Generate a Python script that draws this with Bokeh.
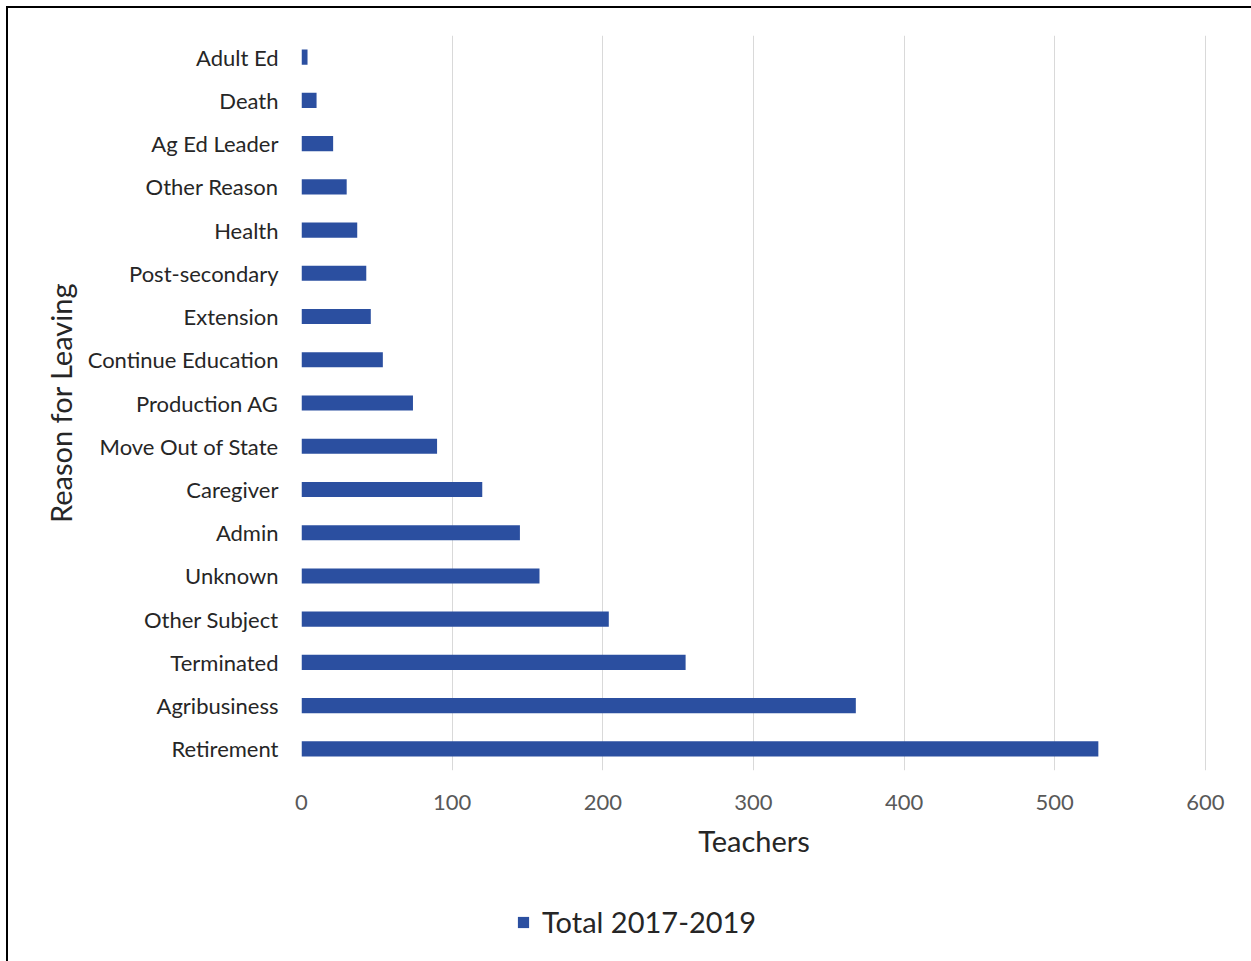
from bokeh.plotting import figure
from bokeh.layouts import column
from bokeh.models import ColumnDataSource, Legend, LegendItem, FixedTicker, Range1d, FactorRange
from bokeh.embed import file_html
from bokeh.resources import INLINE

reasons = ["Adult Ed", "Death", "Ag Ed Leader", "Other Reason", "Health", "Post-secondary",
           "Extension", "Continue Education", "Production AG", "Move Out of State", "Caregiver",
           "Admin", "Unknown", "Other Subject", "Terminated", "Agribusiness", "Retirement"]
teachers = [4, 10, 21, 30, 37, 43, 46, 54, 74, 90, 120, 145, 158, 204, 255, 368, 529]
x_ticks = [0, 100, 200, 300, 400, 500, 600]
series_name = "Total 2017-2019"

FONT = "Lato"
BAR = "#2B4FA0"
W = 1243
H1 = 857
H2 = 96

src = ColumnDataSource(dict(reason=reasons, teachers=teachers))

p = figure(width=W, height=H1, output_backend="svg", toolbar_location=None,
           y_range=FactorRange(*reversed(reasons), range_padding=0),
           x_range=Range1d(0, 600.8))
p.min_border_left = 293
p.min_border_right = 45
p.min_border_top = 27
p.min_border_bottom = H1 - 27 - 735
p.outline_line_color = None
p.background_fill_color = "white"
p.border_fill_color = "white"

r = p.hbar(y="reason", right="teachers", left=0, height=0.35, source=src,
           fill_color=BAR, line_color=None)

p.xaxis.ticker = FixedTicker(ticks=x_ticks)
p.xgrid.ticker = FixedTicker(ticks=x_ticks[1:])
p.xgrid.grid_line_color = "#D9D9D9"
p.ygrid.grid_line_color = None

for ax in (p.xaxis[0], p.yaxis[0]):
    ax.axis_line_color = None
    ax.major_tick_line_color = None
    ax.minor_tick_line_color = None
    ax.major_label_text_font = FONT
    ax.major_label_text_font_size = "22px"
    ax.axis_label_text_font = FONT
    ax.axis_label_text_font_size = "29px"
    ax.axis_label_text_font_style = "normal"
    ax.axis_label_text_color = "#262626"

p.xaxis.major_label_text_color = "#595959"
p.yaxis.major_label_text_color = "#262626"
p.xaxis.major_label_standoff = 18
p.yaxis.major_label_standoff = 17
p.xaxis.axis_label = "Teachers"
p.xaxis.axis_label_standoff = 10
p.yaxis.axis_label = "Reason for Leaving"
p.yaxis.axis_label_standoff = 7

# legend strip below the chart (its renderer draws nothing inside the strip)
p2 = figure(width=W, height=H2, output_backend="svg", toolbar_location=None,
            x_range=Range1d(-2000, -1000), y_range=FactorRange(*reversed(reasons)),
            x_axis_type=None, y_axis_type=None)
p2.min_border_left = p2.min_border_right = p2.min_border_top = p2.min_border_bottom = 0
p2.outline_line_color = None
p2.background_fill_color = "white"
p2.border_fill_color = "white"
r2 = p2.hbar(y="reason", right="teachers", left=0, height=0, source=src,
             fill_color=BAR, line_color=None)

legend = Legend(items=[LegendItem(label=series_name, renderers=[r2])],
                location=(215, 22), orientation="horizontal",
                label_text_font=FONT, label_text_font_size="29px",
                label_text_color="#262626", glyph_width=14, glyph_height=14,
                label_standoff=12, border_line_color=None,
                background_fill_alpha=0, margin=0, padding=0)
p2.add_layout(legend, "center")

layout = column(p, p2, spacing=0,
                styles={"border-top": "2px solid black", "border-left": "2px solid black",
                        "margin-left": "6px", "margin-top": "6px"})

open("out.html", "w").write(file_html(layout, INLINE))
